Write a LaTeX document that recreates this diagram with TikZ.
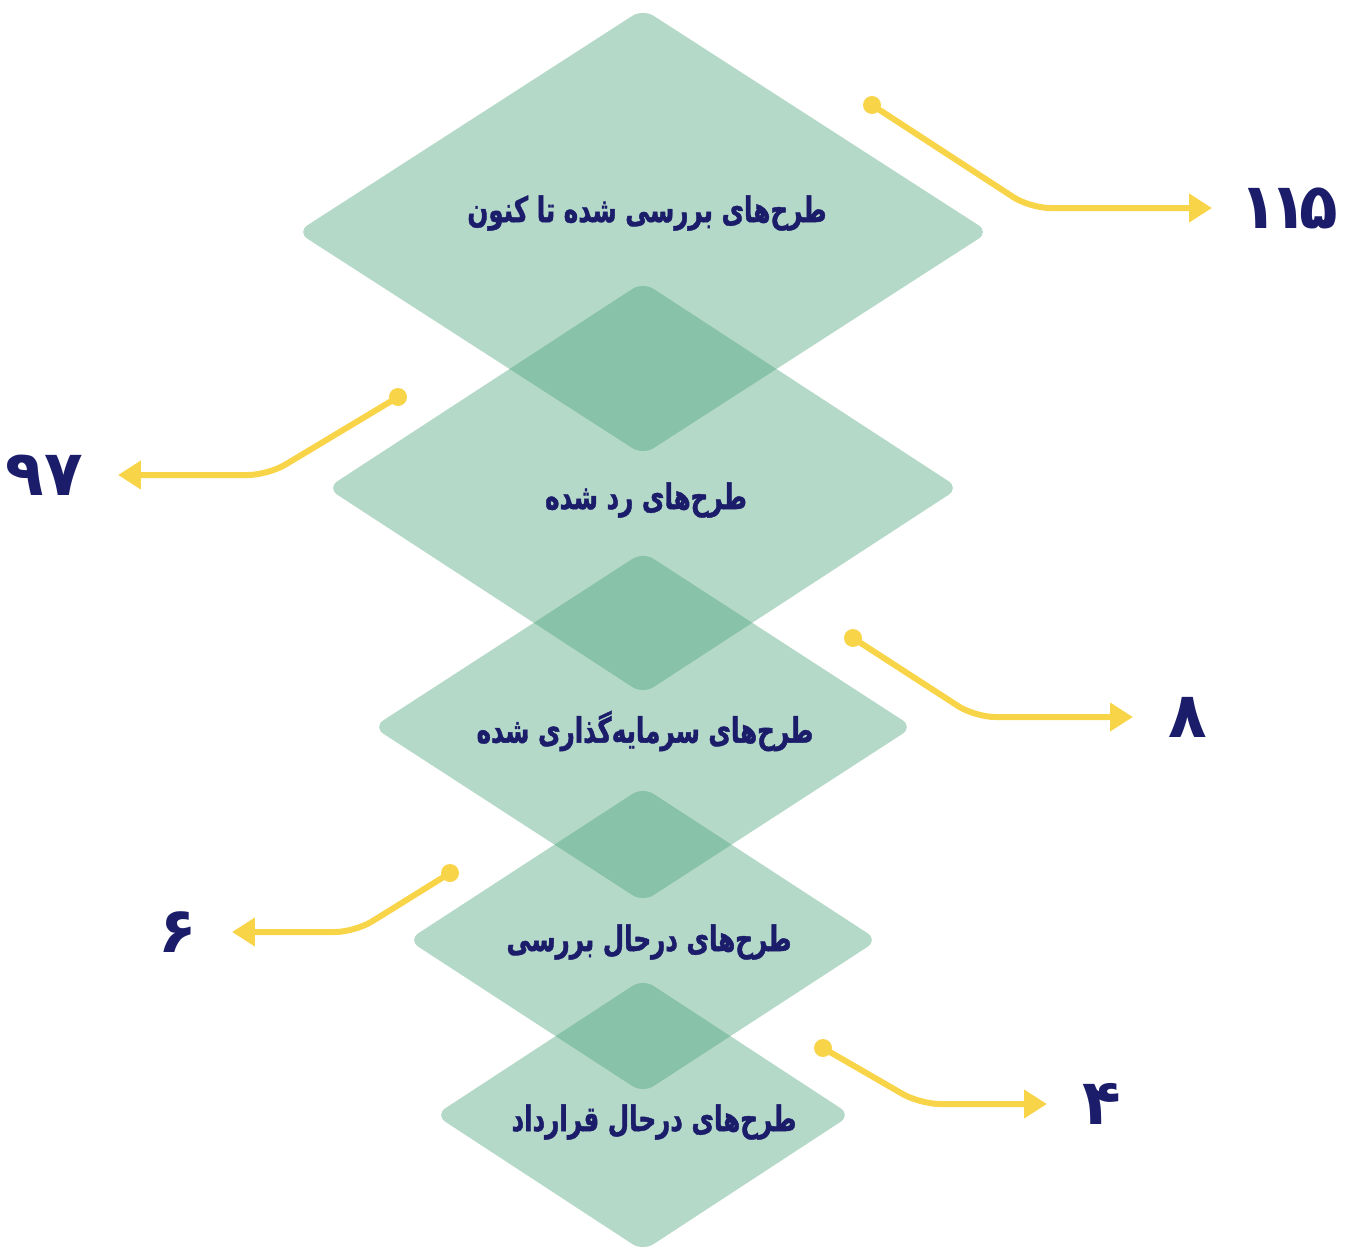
\documentclass[tikz,border=0pt]{standalone}
\usepackage{fontspec}
\usetikzlibrary{arrows.meta}
\TeXXeTstate=1
\newfontfamily\farsi[Script=Arabic, FakeStretch=0.7, FakeBold=1.2]{DejaVu Sans}
\newfontfamily\farsinum[Script=Arabic]{DejaVu Sans}
\definecolor{leafgreen}{HTML}{4AA27A}
\definecolor{navyink}{HTML}{1B1D6A}
\definecolor{goldline}{HTML}{F8D448}
\tikzset{
  leaf/.style={fill=leafgreen, fill opacity=0.41, rounded corners=0.25cm},
  caption/.style={text=navyink, font=\farsi\bfseries\fontsize{20}{24}\selectfont, inner sep=0pt},
  num/.style={text=navyink, font=\farsinum\bfseries\fontsize{36}{40}\selectfont, inner xsep=0.7cm, inner ysep=0pt},
  link/.style={goldline, line width=0.12cm, rounded corners=0.4cm, -{Triangle[length=0.46cm, width=0.55cm]}},
}
\begin{document}
\begin{tikzpicture}[x=0.02cm, y=-0.02cm]
    \useasboundingbox (0,0) rectangle (1350,1251);
    % stacked diamonds
    \foreach \cy/\hw/\hh in {232/346/223, 488/316/206, 727/270/175, 940/235/153, 1115/208/136}
      \fill[leaf] (643,{\cy-\hh}) -- ({643+\hw},\cy) -- (643,{\cy+\hh}) -- ({643-\hw},\cy) -- cycle;
    % labels
    \node[caption] (t1) at (647,213) {\beginR طرح‌های بررسی شده تا کنون\endR};
    \node[caption] (t2) at (646,500) {\beginR طرح‌های رد شده\endR};
    \node[caption] (t3) at (645,731) {\beginR طرح‌های سرمایه‌گذاری شده\endR};
    \node[caption] (t4) at (649,942) {\beginR طرح‌های درحال بررسی\endR};
    \node[caption] (t5) at (654,1122) {\beginR طرح‌های درحال قرارداد\endR};
    % numbers
    \node[num, anchor=west, inner xsep=0.55cm] (n1) at (1212,208) {۱\kern-5pt۱\kern-5pt۵};
    \node[num, anchor=east] (n2) at (118,475) {۹۷};
    \node[num, anchor=west] (n3) at (1133,717) {۸};
    \node[num, anchor=east] (n4) at (232,932) {۶};
    \node[num, anchor=west] (n5) at (1047,1104) {۴};
    % yellow pointers
    \coordinate (d1) at (872,105);  \coordinate (k1) at (1030,208);
    \coordinate (d2) at (398,397);  \coordinate (k2) at (268,475);
    \coordinate (d3) at (853,638);  \coordinate (k3) at (975,717);
    \coordinate (d4) at (450,873);  \coordinate (k4) at (355,932);
    \coordinate (d5) at (823,1048); \coordinate (k5) at (920,1104);
    \foreach \i in {1,...,5}{
      \fill[goldline] (d\i) circle (9);
      \draw[link] (d\i) -- (k\i) -- (n\i);
    }
\end{tikzpicture}
\end{document}
